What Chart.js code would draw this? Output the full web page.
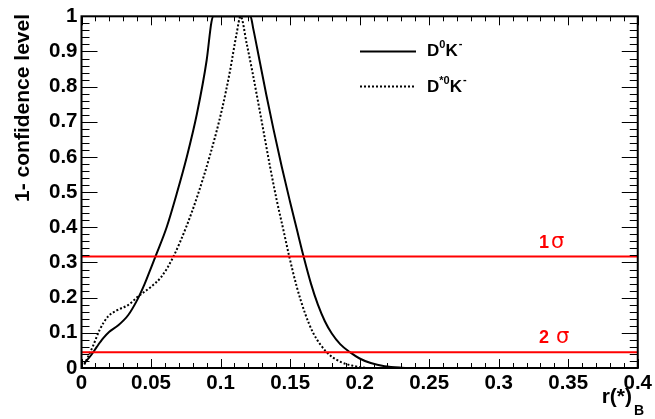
<!DOCTYPE html>
<html>
<head>
<meta charset="utf-8">
<script src="https://cdn.jsdelivr.net/npm/chart.js@4/dist/chart.umd.min.js"></script>
<style>
html,body{margin:0;padding:0;background:#fff;}
#c{display:block;}
</style>
</head>
<body>
<canvas id="c" width="655" height="419"></canvas>
<script>
// D0K- (solid)
const xSolid = [0.002,0.007,0.011,0.0155,0.020,0.026,0.0335,0.040,0.0455,0.050,0.054,0.0613,0.0685,0.0757,0.083,0.090,0.0935,0.0950,0.1215,0.1235,0.1280,0.1330,0.1380,0.1440,0.1500,0.1548,0.1597,0.1650,0.1700,0.1750,0.1800,0.1860,0.1930,0.2000,0.2080,0.2180,0.2300,0.2400];
const ySolid = [0.013,0.037,0.060,0.084,0.103,0.120,0.150,0.193,0.240,0.285,0.325,0.401,0.496,0.600,0.723,0.875,0.985,1.0,1.0,0.965,0.875,0.775,0.680,0.572,0.472,0.395,0.317,0.240,0.180,0.133,0.098,0.068,0.045,0.027,0.014,0.005,0.001,0.0];
// D*0K- (dotted)
const xDotted = [0.002,0.008,0.013,0.019,0.026,0.0335,0.0406,0.050,0.0574,0.066,0.0757,0.083,0.0924,0.1010,0.1068,0.1115,0.1144,0.1188,0.1230,0.1280,0.1308,0.1356,0.1404,0.1452,0.1494,0.1548,0.1608,0.1667,0.1763,0.1860,0.1955,0.2050];
const yDotted = [0.010,0.060,0.108,0.146,0.165,0.179,0.203,0.231,0.259,0.316,0.405,0.485,0.605,0.735,0.845,0.950,1.0,0.922,0.840,0.735,0.675,0.572,0.477,0.392,0.317,0.231,0.155,0.099,0.045,0.018,0.006,0.0];
// confidence-level reference lines
const sigmaLevels = [0.317, 0.045];
const sigmaLabels = ["1", "2 "];
const xRange = [0, 0.4];
const yRange = [0, 1];
const xTickStep = 0.05, xMinorStep = 0.01;
const yTickStep = 0.1, yMinorStep = 0.02;

const FONT = '"Liberation Sans", Arial, Helvetica, sans-serif';

function pts(xs, ys){ return xs.map((x,i)=>({x:x, y:ys[i]})); }

const datasets = [];
sigmaLevels.forEach(v=>{
  datasets.push({data:[{x:xRange[0],y:v},{x:xRange[1],y:v}], borderColor:'#ff0000', borderWidth:2, showLine:true, pointRadius:0, fill:false});
});
datasets.push({label:'D0K-', data:pts(xSolid,ySolid), borderColor:'#000', borderWidth:2, showLine:true, pointRadius:0, cubicInterpolationMode:'monotone', fill:false});
datasets.push({label:'D*0K-', data:pts(xDotted,yDotted), borderColor:'#000', borderWidth:2, borderDash:[2,2], showLine:true, pointRadius:0, cubicInterpolationMode:'monotone', fill:false});

function fmt(v){ return String(Math.round(v*1000)/1000); }

function drawRuns(ctx, x, y, runs){
  let cx = x;
  runs.forEach(r=>{
    ctx.font = 'bold ' + r[1] + 'px ' + FONT;
    ctx.fillText(r[0], cx, y + r[2]);
    cx += ctx.measureText(r[0]).width + (r[3]||0);
  });
}

const framePlugin = {
  id:'frame',
  afterDraw(chart){
    const ctx = chart.ctx;
    const a = chart.chartArea;
    const xs = chart.scales.x, ys = chart.scales.y;
    ctx.save();
    ctx.strokeStyle = '#000';
    ctx.lineWidth = 1;
    const nx = Math.round((xRange[1]-xRange[0])/xMinorStep);
    for(let i=0;i<=nx;i++){
      const v = xRange[0] + i*xMinorStep;
      const px = Math.round(xs.getPixelForValue(v)) + 0.5;
      const major = (i % Math.round(xTickStep/xMinorStep)) === 0;
      const L = major ? 9 : 5;
      ctx.beginPath();
      ctx.moveTo(px, a.bottom); ctx.lineTo(px, a.bottom - L);
      ctx.moveTo(px, a.top); ctx.lineTo(px, a.top + L);
      ctx.stroke();
    }
    const ny = Math.round((yRange[1]-yRange[0])/yMinorStep);
    for(let i=0;i<=ny;i++){
      const v = yRange[0] + i*yMinorStep;
      const py = Math.round(ys.getPixelForValue(v)) + 0.5;
      const major = (i % Math.round(yTickStep/yMinorStep)) === 0;
      const L = major ? 16 : 8;
      ctx.beginPath();
      ctx.moveTo(a.left, py); ctx.lineTo(a.left + L, py);
      ctx.moveTo(a.right, py); ctx.lineTo(a.right - L, py);
      ctx.stroke();
    }
    ctx.lineWidth = 2;
    ctx.strokeRect(a.left, a.top, a.right - a.left, a.bottom - a.top);

    // legend
    ctx.lineWidth = 2;
    ctx.beginPath(); ctx.setLineDash([]);
    ctx.moveTo(360, 51.5); ctx.lineTo(416, 51.5); ctx.stroke();
    ctx.beginPath(); ctx.setLineDash([2,2]);
    ctx.moveTo(360, 86.5); ctx.lineTo(416, 86.5); ctx.stroke();
    ctx.setLineDash([]);
    ctx.fillStyle = '#000';
    ctx.textAlign = 'left'; ctx.textBaseline = 'alphabetic';
    drawRuns(ctx, 427, 56, [['D',17,0],['0',11,-8],['K',17,0,1],['-',11,-9]]);
    drawRuns(ctx, 427, 92, [['D',17,0],['*0',11,-8],['K',17,0,1],['-',11,-9]]);

    // sigma labels
    ctx.fillStyle = '#ff0000';
    sigmaLevels.forEach((v,i)=>{
      const py = ys.getPixelForValue(v) - 9;
      ctx.font = 'bold 18px ' + FONT;
      ctx.fillText(sigmaLabels[i], 539, py);
      const w = ctx.measureText(sigmaLabels[i]).width;
      ctx.font = '21px "DejaVu Sans", ' + FONT;
      ctx.fillText('\u03c3', 539 + w + 2, py);
    });

    // axis titles
    ctx.fillStyle = '#000';
    ctx.save();
    ctx.translate(29, 14);
    ctx.rotate(-Math.PI/2);
    ctx.textAlign = 'right';
    ctx.font = 'bold 21px ' + FONT;
    ctx.fillText('1- confidence level', 0, 0);
    ctx.restore();
    ctx.textAlign = 'right';
    ctx.font = 'bold 21px ' + FONT;
    ctx.fillText('r(*)', 632, 403);
    ctx.textAlign = 'left';
    ctx.font = 'bold 14px ' + FONT;
    ctx.fillText('B', 634, 415);
    ctx.restore();
  }
};

new Chart(document.getElementById('c'), {
  type:'scatter',
  data:{datasets:datasets},
  options:{
    responsive:false,
    animation:false,
    devicePixelRatio:1,
    layout:{padding:{top:16,right:17,left:0,bottom:0}},
    plugins:{legend:{display:false}, tooltip:{enabled:false}},
    scales:{
      x:{
        type:'linear', min:xRange[0], max:xRange[1],
        grid:{display:false, drawTicks:false},
        border:{display:false},
        ticks:{stepSize:xTickStep, padding:3, color:'#000', font:{family:FONT, size:20.5, weight:'bold'}, callback:v=>fmt(v), maxRotation:0, autoSkip:false},
        afterFit(s){ s.height = 51; }
      },
      y:{
        type:'linear', min:yRange[0], max:yRange[1],
        grid:{display:false, drawTicks:false},
        border:{display:false},
        ticks:{stepSize:yTickStep, padding:4, color:'#000', font:{family:FONT, size:20.5, weight:'bold'}, callback:v=>fmt(v), autoSkip:false},
        afterFit(s){ s.width = 81.5; }
      }
    }
  },
  plugins:[framePlugin]
});
</script>
</body>
</html>
